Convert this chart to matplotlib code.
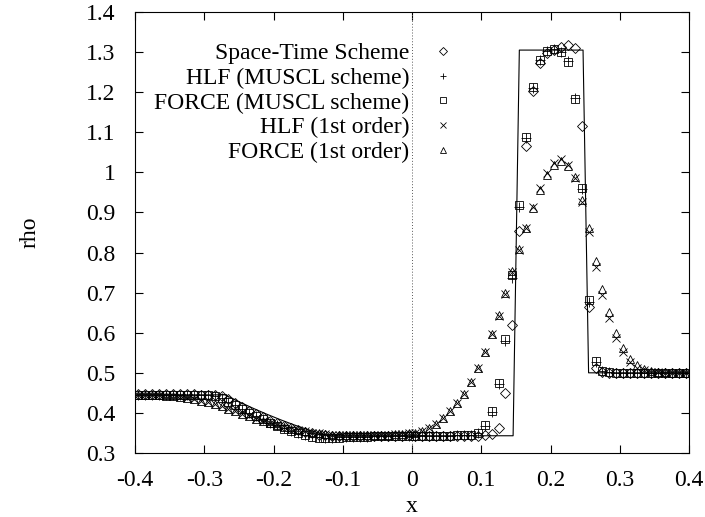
import numpy as np
import matplotlib
matplotlib.use("Agg")
import matplotlib.pyplot as plt

plt.rcParams['font.family'] = ['Liberation Serif', 'DejaVu Serif']

# cell centres of the 80-cell grid on [-0.4, 0.4]
x = np.round(np.arange(-0.395, 0.4, 0.01), 3)

# Space-Time scheme
rho_st = [0.446, 0.446, 0.446, 0.446, 0.446, 0.446, 0.446, 0.446, 0.446, 0.445,
          0.445, 0.444, 0.441, 0.434, 0.425, 0.415, 0.406, 0.397, 0.389, 0.381,
          0.374, 0.368, 0.362, 0.357, 0.353, 0.349, 0.346, 0.344, 0.343, 0.342,
          0.342, 0.342, 0.342, 0.342, 0.342, 0.342, 0.343, 0.343, 0.343, 0.344,
          0.343, 0.343, 0.343, 0.342, 0.342, 0.342, 0.342, 0.342, 0.342, 0.343,
          0.344, 0.347, 0.363, 0.450, 0.619, 0.854, 1.066, 1.203, 1.273, 1.298,
          1.306, 1.313, 1.318, 1.309, 1.116, 0.664, 0.512, 0.501, 0.500, 0.500,
          0.500, 0.500, 0.500, 0.500, 0.500, 0.500, 0.500, 0.500, 0.500, 0.500]

# HLF, MUSCL scheme
rho_hlf_muscl = [0.445, 0.445, 0.445, 0.445, 0.445, 0.445, 0.445, 0.445, 0.445, 0.445,
                 0.444, 0.441, 0.436, 0.428, 0.419, 0.410, 0.401, 0.392, 0.384, 0.376,
                 0.369, 0.362, 0.356, 0.351, 0.346, 0.342, 0.339, 0.338, 0.338, 0.339,
                 0.340, 0.340, 0.341, 0.341, 0.342, 0.342, 0.342, 0.342, 0.343, 0.343,
                 0.343, 0.343, 0.343, 0.343, 0.343, 0.343, 0.344, 0.344, 0.346, 0.350,
                 0.368, 0.402, 0.472, 0.580, 0.737, 0.914, 1.086, 1.210, 1.280, 1.302,
                 1.308, 1.300, 1.278, 1.186, 0.959, 0.677, 0.527, 0.504, 0.501, 0.500,
                 0.500, 0.500, 0.500, 0.500, 0.500, 0.500, 0.500, 0.500, 0.500, 0.500]

# FORCE, MUSCL scheme
rho_force_muscl = [0.445, 0.445, 0.445, 0.445, 0.445, 0.445, 0.445, 0.445, 0.445, 0.445,
                   0.444, 0.441, 0.436, 0.428, 0.419, 0.410, 0.401, 0.392, 0.384, 0.376,
                   0.368, 0.361, 0.355, 0.350, 0.345, 0.341, 0.338, 0.337, 0.337, 0.338,
                   0.339, 0.340, 0.341, 0.341, 0.342, 0.342, 0.342, 0.342, 0.343, 0.343,
                   0.343, 0.343, 0.343, 0.343, 0.343, 0.343, 0.344, 0.344, 0.346, 0.351,
                   0.369, 0.404, 0.475, 0.584, 0.745, 0.918, 1.088, 1.212, 1.281, 1.302,
                   1.307, 1.299, 1.276, 1.183, 0.962, 0.681, 0.530, 0.505, 0.501, 0.500,
                   0.500, 0.500, 0.500, 0.500, 0.500, 0.500, 0.500, 0.500, 0.500, 0.500]

# HLF, 1st order
rho_hlf_1st = [0.445, 0.445, 0.445, 0.444, 0.443, 0.442, 0.440, 0.437, 0.434, 0.430,
               0.426, 0.421, 0.416, 0.410, 0.404, 0.398, 0.392, 0.386, 0.380, 0.375,
               0.370, 0.365, 0.361, 0.357, 0.354, 0.351, 0.349, 0.347, 0.346, 0.345,
               0.345, 0.344, 0.344, 0.344, 0.345, 0.345, 0.346, 0.347, 0.348, 0.349,
               0.351, 0.356, 0.363, 0.373, 0.388, 0.405, 0.425, 0.447, 0.477, 0.512,
               0.552, 0.597, 0.642, 0.697, 0.752, 0.806, 0.861, 0.914, 0.961, 0.999,
               1.023, 1.033, 1.018, 0.986, 0.926, 0.850, 0.765, 0.695, 0.637, 0.587,
               0.552, 0.527, 0.513, 0.506, 0.503, 0.501, 0.500, 0.500, 0.500, 0.500]

# FORCE, 1st order
rho_force_1st = [0.445, 0.445, 0.445, 0.444, 0.443, 0.442, 0.440, 0.437, 0.434, 0.430,
                 0.426, 0.421, 0.416, 0.410, 0.404, 0.398, 0.392, 0.386, 0.380, 0.375,
                 0.370, 0.365, 0.361, 0.357, 0.354, 0.351, 0.349, 0.347, 0.346, 0.345,
                 0.345, 0.344, 0.344, 0.344, 0.345, 0.345, 0.346, 0.347, 0.348, 0.349,
                 0.351, 0.356, 0.363, 0.373, 0.388, 0.405, 0.425, 0.448, 0.478, 0.513,
                 0.553, 0.598, 0.644, 0.699, 0.754, 0.808, 0.862, 0.912, 0.957, 0.994,
                 1.018, 1.028, 1.016, 0.988, 0.932, 0.860, 0.780, 0.710, 0.652, 0.600,
                 0.562, 0.535, 0.519, 0.510, 0.505, 0.502, 0.501, 0.500, 0.500, 0.500]

# exact solution
x_exact = [-0.4, -0.27, -0.25, -0.23, -0.21, -0.19, -0.17, -0.15, -0.13, -0.12,
           0.146, 0.155, 0.247, 0.255, 0.4]
rho_exact = [0.445, 0.445, 0.428, 0.412, 0.397, 0.383, 0.370, 0.358, 0.347, 0.343,
             0.343, 1.305, 1.305, 0.5, 0.5]

xticks = [-0.4, -0.3, -0.2, -0.1, 0, 0.1, 0.2, 0.3, 0.4]
xticklabels = ['-0.4', '-0.3', '-0.2', '-0.1', '0', '0.1', '0.2', '0.3', '0.4']
yticks = [0.3, 0.4, 0.5, 0.6, 0.7, 0.8, 0.9, 1.0, 1.1, 1.2, 1.3, 1.4]
yticklabels = ['0.3', '0.4', '0.5', '0.6', '0.7', '0.8', '0.9', '1', '1.1', '1.2', '1.3', '1.4']

fs = 17
fig = plt.figure(figsize=(7.05, 5.17), dpi=100)
ax = fig.add_axes([135 / 705, 1 - 453 / 517, 554 / 705, 441 / 517])

ax.axvline(0, color='0.35', lw=0.7, ls=(0, (1, 2)))
ax.plot(x_exact, rho_exact, color='black', lw=0.8)

mk = dict(ls='none', color='black', mfc='none', mew=0.6)
ax.plot(x, rho_st, marker='D', ms=5.3, label='Space-Time Scheme', **mk)
ax.plot(x, rho_hlf_muscl, marker='+', ms=7, label='HLF (MUSCL scheme)', **mk)
ax.plot(x, rho_force_muscl, marker='s', ms=6, label='FORCE (MUSCL scheme)', **mk)
ax.plot(x, rho_hlf_1st, marker='x', ms=6, label='HLF (1st order)', **mk)
ax.plot(x, rho_force_1st, marker='^', ms=6, label='FORCE (1st order)', **mk)

ax.set_xlim(-0.4, 0.4)
ax.set_ylim(0.3, 1.4)
ax.set_xticks(xticks)
ax.set_xticklabels(xticklabels)
ax.set_yticks(yticks)
ax.set_yticklabels(yticklabels)
ax.tick_params(direction='in', length=6, width=0.8, top=True, right=True, labelsize=fs)
ax.tick_params(axis='x', pad=12)
ax.tick_params(axis='y', pad=14)
for s in ax.spines.values():
    s.set_linewidth(0.8)

ax.set_xlabel('x', fontsize=fs, labelpad=4)
ax.set_ylabel('rho', fontsize=fs)
ax.yaxis.set_label_coords(-0.17, 0.5)

leg = ax.legend(loc='upper right', bbox_to_anchor=(0.578, 0.93), frameon=False,
                markerfirst=False, fontsize=fs, handlelength=1.0, handletextpad=0.95,
                labelspacing=0.13, borderpad=0, borderaxespad=0, numpoints=1)
for h in leg.legend_handles:
    h.set_markersize(4.5)

fig.savefig('out.png', dpi=100)
